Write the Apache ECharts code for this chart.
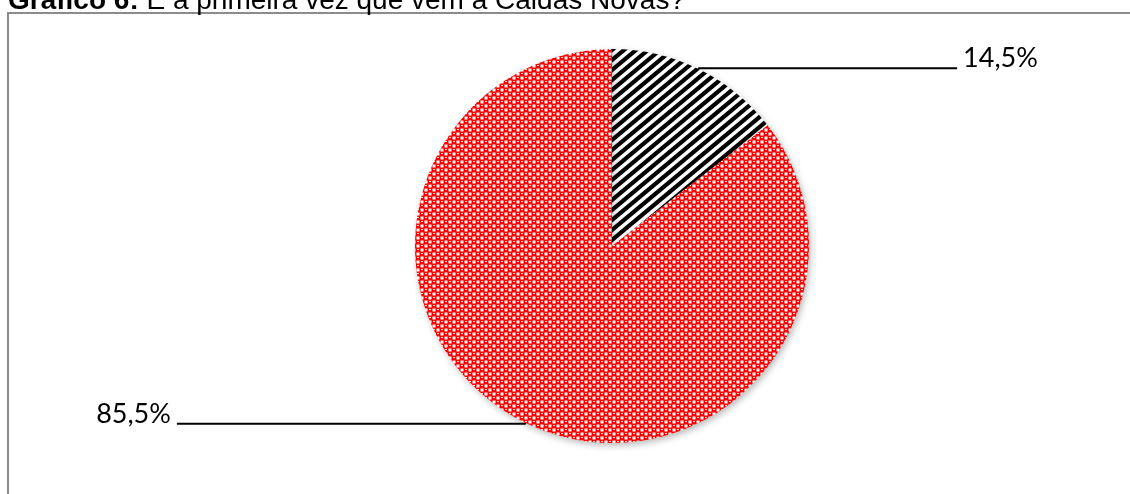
<!DOCTYPE html>
<html>
<head>
<meta charset="utf-8">
<script src="https://cdn.jsdelivr.net/npm/echarts@6/dist/echarts.min.js"></script>
<style>
html,body{margin:0;padding:0;background:#fff;}
#frame{position:absolute;left:7px;top:12px;width:1200px;height:600px;border-left:2px solid #8c8c8c;border-top:2px solid #8c8c8c;box-sizing:border-box;}
#chart{position:absolute;left:0;top:0;width:1130px;height:494px;}
</style>
</head>
<body>
<div id="frame"></div>
<div id="chart"></div>
<script>
// Data
const categories = ['Não', 'Sim'];
const values = [14.5, 85.5];
const titleBold = 'Gráfico 6:';
const titleRest = ' É a primeira vez que vem a Caldas Novas?';

function stripeTile() {
  const w = 12, h = 10;
  const c = document.createElement('canvas');
  c.width = w; c.height = h;
  const g = c.getContext('2d');
  g.fillStyle = '#fff'; g.fillRect(0, 0, w, h);
  g.strokeStyle = '#000'; g.lineWidth = 4.2;
  [[-w, h, w, -h], [-w, 2 * h, w, 0], [0, 2 * h, 2 * w, 0]].forEach(function (l) {
    g.beginPath(); g.moveTo(l[0], l[1]); g.lineTo(l[2], l[3]); g.stroke();
  });
  return c;
}
function checkTile() {
  const s = 8;
  const c = document.createElement('canvas');
  c.width = s; c.height = s;
  const g = c.getContext('2d');
  g.fillStyle = '#fff'; g.fillRect(0, 0, s, s);
  g.fillStyle = '#ff0000';
  const blobs = [[0, 0], [4, 4], [-4, 4], [4, -4], [-4, -4], [8, 0], [0, 8], [8, 8], [-8, 0], [0, -8], [8, -8], [-8, 8]];
  blobs.forEach(function (b) { g.fillRect(b[0] - 0.5, b[1] - 0.5, 5, 5); });
  g.fillStyle = 'rgba(255,255,255,0.9)';
  [[1, 1], [5, 5]].forEach(function (b) { g.fillRect(b[0], b[1], 2, 1); });
  return c;
}

const colors = [
  { image: stripeTile(), repeat: 'repeat' },
  { image: checkTile(), repeat: 'repeat' }
];
const lineLen2 = [258, 348];

const chart = echarts.init(document.getElementById('chart'), null, { renderer: 'canvas' });
chart.setOption({
  animation: false,
  backgroundColor: 'transparent',
  title: {
    text: '{b|' + titleBold + '}{n|' + titleRest + '}',
    left: 8, top: -13, padding: 0,
    textStyle: {
      fontFamily: 'Liberation Sans', fontSize: 28, fontWeight: 'normal', color: '#000',
      rich: {
        b: { fontFamily: 'Liberation Sans', fontWeight: 'bold', fontSize: 28, color: '#000' },
        n: { fontFamily: 'Liberation Sans', fontWeight: 'normal', fontSize: 28, color: '#000' }
      }
    }
  },
  series: [{
    type: 'pie',
    center: [612, 246],
    radius: [0, 197],
    startAngle: 90,
    clockwise: true,
    avoidLabelOverlap: false,
    itemStyle: {
      shadowBlur: 6, shadowColor: 'rgba(0,0,0,0.25)', shadowOffsetX: 2, shadowOffsetY: 3
    },
    label: {
      show: true, position: 'outside', distanceToLabelLine: 6,
      fontFamily: 'Lato', fontSize: 27, lineHeight: 20, color: '#000',
      formatter: function (p) { return p.value.toFixed(1).replace('.', ',') + '%\n '; }
    },
    labelLine: { show: true, length: 1, smooth: false, lineStyle: { color: '#000', width: 2 } },
    data: categories.map(function (name, i) {
      return {
        name: name, value: values[i],
        itemStyle: { color: colors[i] },
        labelLine: { length2: lineLen2[i] }
      };
    })
  }]
});
</script>
</body>
</html>
